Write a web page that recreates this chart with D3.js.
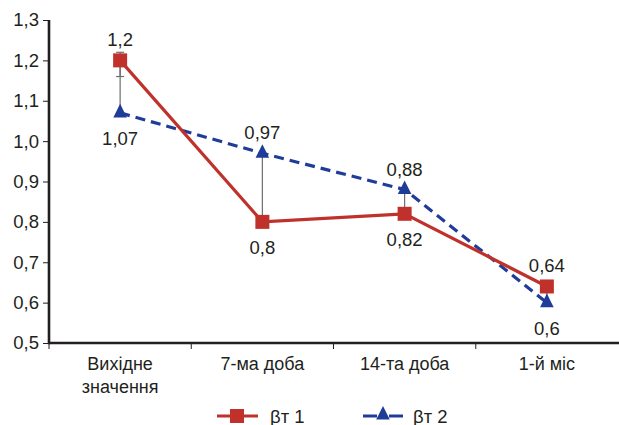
<!DOCTYPE html>
<html>
<head>
<meta charset="utf-8">
<script src="https://cdnjs.cloudflare.com/ajax/libs/d3/7.8.5/d3.min.js"></script>
<style>
  body { margin: 0; background: #fff; }
  svg text { font-family: "Liberation Sans", Arial, sans-serif; fill: #231f20; }
</style>
</head>
<body>
<div id="chart"></div>
<script>
// data
var categories = ["Вихідне\nзначення", "7-ма доба", "14-та доба", "1-й міс"];
var seriesNames = ["βт 1", "βт 2"];
var values1 = [1.2, 0.8, 0.82, 0.64];
var values2 = [1.07, 0.97, 0.88, 0.6];
var labels1 = ["1,2", "0,8", "0,82", "0,64"];
var labels2 = ["1,07", "0,97", "0,88", "0,6"];
var labelSide1 = ["up", "down", "down", "up"];
var labelSide2 = ["down", "up", "up", "down"];
var errLow1 = [1.16, null, null, null];
var errHigh1 = [1.22, null, null, null];
var yTicks = [0.5, 0.6, 0.7, 0.8, 0.9, 1.0, 1.1, 1.2, 1.3];

var RED = "#c0312b", BLUE = "#1f3c98";
var FS = 18.5;
var width = 619, height = 425;

var svg = d3.select("#chart").append("svg")
    .attr("width", width).attr("height", height);

var x = d3.scaleBand().domain(d3.range(categories.length)).range([49, 618]).padding(0);
var y = d3.scaleLinear().domain([0.5, 1.3]).range([343, 20]);
var cx = function (i) { return x(i) + x.bandwidth() / 2; };

// y axis
var yAxis = svg.append("g").attr("transform", "translate(49,0)")
    .call(d3.axisLeft(y).tickValues(yTicks).tickSize(6).tickPadding(4)
        .tickFormat(function (d) { return d3.format(".1f")(d).replace(".", ","); }));
yAxis.select(".domain").remove();
yAxis.selectAll(".tick line").attr("stroke", "#231f20").attr("stroke-width", 1);
yAxis.selectAll(".tick text").attr("font-size", FS).attr("fill", "#231f20")
    .attr("font-family", "Liberation Sans, Arial, sans-serif");

// x axis ticks at the band edges
var edges = d3.range(categories.length).map(function (i) { return x(i); });
svg.selectAll(".xtick").data(edges).enter().append("line")
    .attr("x1", function (d) { return d; }).attr("x2", function (d) { return d; })
    .attr("y1", 343).attr("y2", 349)
    .attr("stroke", "#231f20").attr("stroke-width", 1);

// axis lines
svg.append("line").attr("x1", 49).attr("x2", 619).attr("y1", 343).attr("y2", 343)
    .attr("stroke", "#231f20").attr("stroke-width", 2.6);
svg.append("line").attr("x1", 49).attr("x2", 49).attr("y1", 20).attr("y2", 344.3)
    .attr("stroke", "#231f20").attr("stroke-width", 2.6);

// category labels
var cat = svg.selectAll(".cat").data(categories).enter().append("text")
    .attr("text-anchor", "middle").attr("font-size", 18)
    .attr("x", function (d, i) { return cx(i); })
    .attr("y", 370);
cat.each(function (d) {
  var t = d3.select(this);
  d.split("\n").forEach(function (s, k) {
    t.append("tspan").attr("x", t.attr("x")).attr("dy", k ? 23 : 0).text(s);
  });
});

// thin connectors between the two series
svg.selectAll(".conn").data(d3.range(categories.length)).enter().append("line")
    .attr("x1", cx).attr("x2", cx)
    .attr("y1", function (i) { return y(values1[i]); })
    .attr("y2", function (i) { return y(values2[i]); })
    .attr("stroke", "#6d6d6d").attr("stroke-width", 1.2);

// error whiskers for series 1
d3.range(categories.length).forEach(function (i) {
  if (errLow1[i] == null) return;
  var g = svg.append("g").attr("stroke", "#6d6d6d").attr("stroke-width", 1.2);
  g.append("line").attr("x1", cx(i)).attr("x2", cx(i)).attr("y1", y(errHigh1[i])).attr("y2", y(errLow1[i]));
  [errLow1[i], errHigh1[i]].forEach(function (v) {
    g.append("line").attr("x1", cx(i) - 4).attr("x2", cx(i) + 4).attr("y1", y(v)).attr("y2", y(v));
  });
});

var line = d3.line().x(function (d, i) { return cx(i); }).y(function (d) { return y(d); });

// series 2 (dashed, triangles)
svg.append("path").datum(values2).attr("d", line)
    .attr("fill", "none").attr("stroke", BLUE).attr("stroke-width", 3.2)
    .attr("stroke-dasharray", "10,6");
// series 1 (solid, squares)
svg.append("path").datum(values1).attr("d", line)
    .attr("fill", "none").attr("stroke", RED).attr("stroke-width", 3.2);

var tri = d3.symbol().type(d3.symbolTriangle).size(80);
svg.selectAll(".tri").data(values2).enter().append("path")
    .attr("d", tri)
    .attr("transform", function (d, i) { return "translate(" + cx(i) + "," + y(d) + ") scale(1,1.15)"; })
    .attr("fill", BLUE);
svg.selectAll(".sq").data(values1).enter().append("rect")
    .attr("x", function (d, i) { return cx(i) - 7; })
    .attr("y", function (d) { return y(d) - 7; })
    .attr("width", 14).attr("height", 14).attr("fill", RED);

// value labels
function addLabels(vals, labs, sides) {
  svg.selectAll(null).data(vals).enter().append("text")
      .attr("text-anchor", "middle").attr("font-size", FS)
      .attr("x", function (d, i) { return cx(i); })
      .attr("y", function (d, i) { return y(d) + (sides[i] == "up" ? -14 : 32); })
      .text(function (d, i) { return labs[i]; });
}
addLabels(values1, labels1, labelSide1);
addLabels(values2, labels2, labelSide2);

// legend
var leg = svg.append("g");
leg.append("line").attr("x1", 217).attr("x2", 258).attr("y1", 416).attr("y2", 416)
    .attr("stroke", RED).attr("stroke-width", 3.2);
leg.append("rect").attr("x", 230).attr("y", 409).attr("width", 14).attr("height", 14).attr("fill", RED);
leg.append("text").attr("x", 270).attr("y", 422.5).attr("font-size", FS).text(seriesNames[0]);
leg.append("line").attr("x1", 363).attr("x2", 404).attr("y1", 416).attr("y2", 416)
    .attr("stroke", BLUE).attr("stroke-width", 3.2).attr("stroke-dasharray", "14,12");
leg.append("path").attr("d", tri).attr("transform", "translate(383,415) scale(1,1.15)").attr("fill", BLUE);
leg.append("text").attr("x", 413).attr("y", 422.5).attr("font-size", FS).text(seriesNames[1]);
</script>
</body>
</html>
